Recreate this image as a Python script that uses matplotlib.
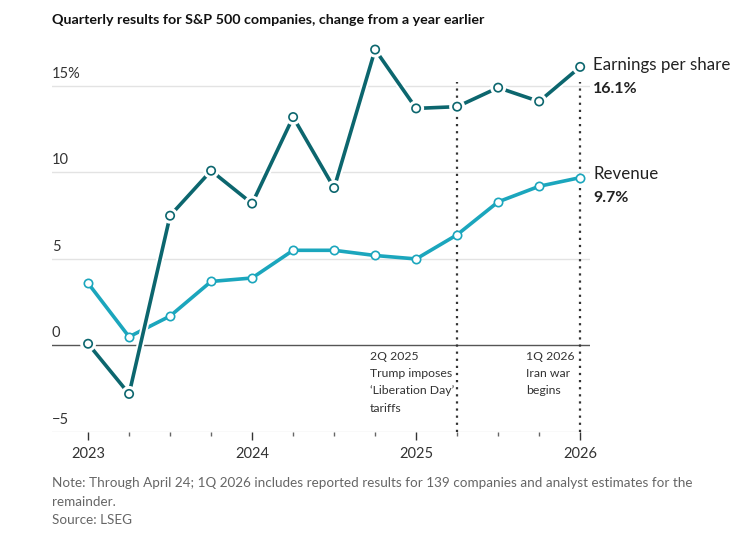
import matplotlib.pyplot as plt
import matplotlib.patheffects as pe

plt.rcParams['font.family'] = ['Lato', 'DejaVu Sans']

# quarterly points, 1Q 2023 .. 1Q 2026 (x = year + quarter offset)
quarters = [2023 + i * 0.25 for i in range(13)]
eps = [0.1, -2.8, 7.5, 10.1, 8.2, 13.2, 9.1, 17.1, 13.7, 13.8, 14.9, 14.1, 16.1]
revenue = [3.6, 0.5, 1.7, 3.7, 3.9, 5.5, 5.5, 5.2, 5.0, 6.4, 8.3, 9.2, 9.7]
y_ticks = [-5, 0, 5, 10, 15]
y_labels = ['−5', '0', '5', '10', '15%']
x_years = [2023, 2024, 2025, 2026]
events = [2025.25, 2026.0]

EPS_COL = '#0c666e'
REV_COL = '#1ba6bd'

fig = plt.figure(figsize=(7.38, 5.42), dpi=100)
W, H = 738, 542
ax = fig.add_axes([52 / W, 1 - 432 / H, (590 - 52) / W, (432 - 34) / H])
ax.set_xlim(2022.78, 2026.06)
ax.set_ylim(-5, 18)

for s in ax.spines.values():
    s.set_visible(False)

# gridlines
for t in y_ticks:
    if t == 0:
        ax.axhline(t, color='#555555', lw=1.0, zorder=1)
    else:
        ax.axhline(t, color='#e3e3e3', lw=1.0, zorder=0)

# event lines
for e in events:
    ax.plot([e, e], [-5, 15.2], color='#333333', lw=1.6, ls=(0, (1, 2.2)), zorder=2)

ax.plot(quarters, revenue, color=REV_COL, lw=2.6, marker='o', ms=6,
        mfc='white', mec=REV_COL, mew=1.2, zorder=3)
ax.plot(quarters, eps, color=EPS_COL, lw=2.6, marker='o', ms=6,
        mfc='white', mec=EPS_COL, mew=1.2, zorder=4,
        path_effects=[pe.Stroke(linewidth=5.5, foreground='white'), pe.Normal()])

# y labels above gridlines
ax.set_yticks([])
for t, lab in zip(y_ticks, y_labels):
    ax.text(2022.78, t + 0.7, lab, fontsize=10.5, color='#333333',
            ha='left', va='center')

# x ticks
ax.set_xticks(x_years)
ax.set_xticklabels([str(y) for y in x_years], fontsize=10.5, color='#333333')
ax.set_xticks(quarters, minor=True)
ax.tick_params(axis='x', which='major', length=6, width=1, color='#333333', pad=5)
ax.tick_params(axis='x', which='minor', length=3, width=1, color='#666666')

# series labels
ax.text(2026.08, eps[-1] + 0.1, 'Earnings per share', fontsize=12.2, color='#222222',
        ha='left', va='center', clip_on=False)
ax.text(2026.08, eps[-1] - 1.3, '16.1%', fontsize=11.5, fontweight='bold',
        color='#222222', ha='left', va='center', clip_on=False)
ax.text(2026.08, revenue[-1] + 0.2, 'Revenue', fontsize=12.2, color='#222222',
        ha='left', va='center', clip_on=False)
ax.text(2026.08, revenue[-1] - 1.2, '9.7%', fontsize=11.5, fontweight='bold',
        color='#222222', ha='left', va='center', clip_on=False)

# event annotations
ax.text(2024.72, -0.3, '2Q 2025\nTrump imposes\n‘Liberation Day’\ntariffs',
        fontsize=8.8, color='#333333', ha='left', va='top', linespacing=1.7)
ax.text(2025.67, -0.3, '1Q 2026\nIran war\nbegins',
        fontsize=8.8, color='#333333', ha='left', va='top', linespacing=1.7)

fig.text(52 / W, 1 - 20 / H, 'Quarterly results for S&P 500 companies, change from a year earlier',
         fontsize=10.3, fontweight='bold', color='#111111', ha='left', va='center')

fig.text(52 / W, 1 - 477 / H,
         'Note: Through April 24; 1Q 2026 includes reported results for 139 companies and analyst estimates for the\nremainder.\nSource: LSEG',
         fontsize=9.7, color='#666666', ha='left', va='top', linespacing=1.65)

fig.savefig('out.png', dpi=100)
